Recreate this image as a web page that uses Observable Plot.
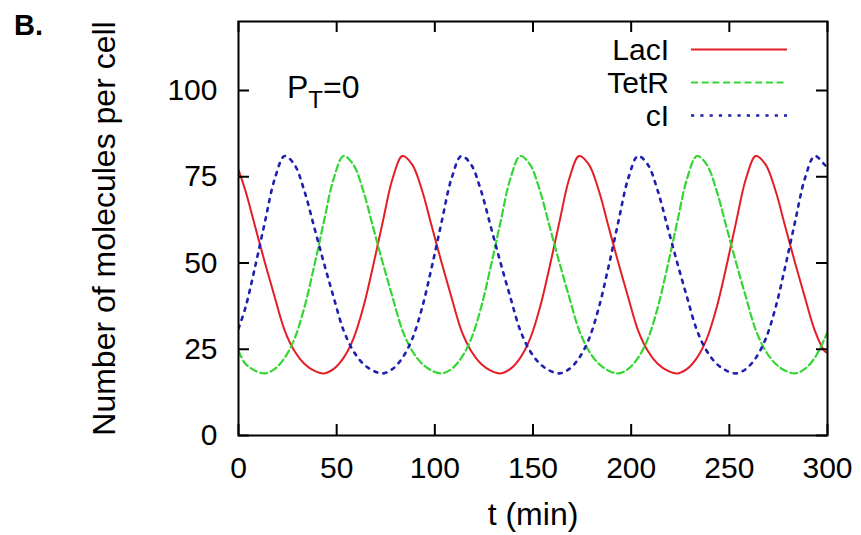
<!DOCTYPE html>
<html>
<head>
<meta charset="utf-8">
<script src="https://cdn.jsdelivr.net/npm/d3@7"></script>
<script src="https://cdn.jsdelivr.net/npm/@observablehq/plot@0.6"></script>
<style>
  html, body { margin: 0; padding: 0; background: #ffffff; }
  #chart svg { display: block; }
</style>
</head>
<body>
<div id="chart"></div>
<script>
// ---- data ----
const time = [0, 3.5, 8.5, 13.5, 18.5, 23.5, 28.5, 33.5, 38.5, 43.5, 48.5, 53.5, 58.5, 63.5, 68.5,
  73.5, 78.5, 83.5, 88.5, 93.5, 98.5, 103.5, 108.5, 113.5, 118.5, 123.5, 128.5, 133.5, 138.5,
  143.5, 148.5, 153.5, 158.5, 163.5, 168.5, 173.5, 178.5, 183.5, 188.5, 193.5, 198.5, 203.5,
  208.5, 213.5, 218.5, 223.5, 228.5, 233.5, 238.5, 243.5, 248.5, 253.5, 258.5, 263.5, 268.5,
  273.5, 278.5, 283.5, 288.5, 293.5, 298.5, 300];

const lacI = [77.0,
  71.0, 60.5, 50.0, 40.0, 30.5, 24.5, 20.8, 18.8,
  18.0, 19.3, 22.5, 28.0, 37.0, 49.0, 62.0, 74.5, 81.0, 78.5, 71.0, 60.5, 50.0, 40.0, 30.5, 24.5, 20.8, 18.8,
  18.0, 19.3, 22.5, 28.0, 37.0, 49.0, 62.0, 74.5, 81.0, 78.5, 71.0, 60.5, 50.0, 40.0, 30.5, 24.5, 20.8, 18.8,
  18.0, 19.3, 22.5, 28.0, 37.0, 49.0, 62.0, 74.5, 81.0, 78.5, 71.0, 60.5, 50.0, 40.0, 30.5, 24.5,
  24.0];

const tetR = [24.5,
  20.8, 18.8,
  18.0, 19.3, 22.5, 28.0, 37.0, 49.0, 62.0, 74.5, 81.0, 78.5, 71.0, 60.5, 50.0, 40.0, 30.5, 24.5, 20.8, 18.8,
  18.0, 19.3, 22.5, 28.0, 37.0, 49.0, 62.0, 74.5, 81.0, 78.5, 71.0, 60.5, 50.0, 40.0, 30.5, 24.5, 20.8, 18.8,
  18.0, 19.3, 22.5, 28.0, 37.0, 49.0, 62.0, 74.5, 81.0, 78.5, 71.0, 60.5, 50.0, 40.0, 30.5, 24.5, 20.8, 18.8,
  18.0, 19.3, 22.5, 28.0,
  30.0];

const cI = [31.0,
  37.0, 49.0, 62.0, 74.5, 81.0, 78.5, 71.0, 60.5, 50.0, 40.0, 30.5, 24.5, 20.8, 18.8,
  18.0, 19.3, 22.5, 28.0, 37.0, 49.0, 62.0, 74.5, 81.0, 78.5, 71.0, 60.5, 50.0, 40.0, 30.5, 24.5, 20.8, 18.8,
  18.0, 19.3, 22.5, 28.0, 37.0, 49.0, 62.0, 74.5, 81.0, 78.5, 71.0, 60.5, 50.0, 40.0, 30.5, 24.5, 20.8, 18.8,
  18.0, 19.3, 22.5, 28.0, 37.0, 49.0, 62.0, 74.5, 81.0, 78.5,
  77.5];

const seriesNames = ["LacI", "TetR", "cI"];
const xTicks = [0, 50, 100, 150, 200, 250, 300];
const yTicks = [0, 25, 50, 75, 100];
const xLabel = "t (min)";
const yLabel = "Number of molecules per cell";
const panelLabel = "B.";

// ---- styles ----
const FONT = "'Liberation Sans', Arial, Helvetica, sans-serif";
const colors = ["#e41e26", "#33d633", "#1f1fb0"];
const widths = [2, 2.2, 2.6];
const dashes = [null, "7,3.7", "3.2,6.1"];

const W = 861, H = 535;
const M = {top: 21, right: 34, bottom: 100, left: 238};
const FW = W - M.left - M.right, FH = H - M.top - M.bottom;
const TICK = 11;

const seriesValues = [lacI, tetR, cI];
const lines = seriesValues.map((vals, s) =>
  Plot.line(time.map((t, i) => ({t, v: vals[i]})), {
    x: "t", y: "v", stroke: colors[s], strokeWidth: widths[s],
    strokeDasharray: dashes[s], curve: "catmull-rom", clip: true
  })
);

function annotations() {
  const g = d3.create("svg:g").attr("font-family", FONT).attr("fill", "black")
    .attr("text-anchor", "start");
  // panel label
  g.append("text").attr("x", 14).attr("y", 35).attr("font-size", 29)
    .attr("font-weight", "bold").text(panelLabel);
  // P_T = 0
  const p = g.append("text").attr("x", 287).attr("y", 98).attr("font-size", 32);
  p.append("tspan").text("P");
  p.append("tspan").attr("font-size", 24).attr("dy", 10).text("T");
  p.append("tspan").attr("dy", -10).text("=0");
  // legend
  const baseY = [60, 93, 126];
  seriesNames.forEach((name, s) => {
    g.append("text").attr("x", 669).attr("y", baseY[s]).attr("font-size", 30)
      .attr("text-anchor", "end").text(name);
    g.append("line").attr("x1", 691).attr("x2", 787)
      .attr("y1", baseY[s] - 10.5).attr("y2", baseY[s] - 10.5)
      .attr("stroke", colors[s]).attr("stroke-width", widths[s])
      .attr("stroke-dasharray", dashes[s]);
  });
  return g.node();
}

const chart = Plot.plot({
  width: W, height: H,
  marginTop: M.top, marginRight: M.right, marginBottom: M.bottom, marginLeft: M.left,
  style: {fontFamily: FONT, fontSize: "30px", color: "black", background: "white"},
  x: {domain: [0, 300], ticks: xTicks, tickSize: 0, tickPadding: 21, label: null},
  y: {domain: [0, 120], ticks: yTicks, tickSize: 0, tickPadding: 21, label: null},
  marks: [
    ...lines,
    // inward ticks on all four sides
    Plot.tickX(xTicks, {x: d => d, insetTop: FH - TICK, stroke: "black", strokeWidth: 2}),
    Plot.tickX(xTicks, {x: d => d, insetBottom: FH - TICK, stroke: "black", strokeWidth: 2}),
    Plot.tickY(yTicks, {y: d => d, insetRight: FW - TICK, stroke: "black", strokeWidth: 2}),
    Plot.tickY(yTicks, {y: d => d, insetLeft: FW - TICK, stroke: "black", strokeWidth: 2}),
    Plot.frame({stroke: "black", strokeWidth: 2}),
    Plot.text([xLabel], {frameAnchor: "bottom", dy: 89, lineAnchor: "bottom", fontSize: 32}),
    Plot.text([yLabel], {frameAnchor: "left", dx: -124, rotate: -90, textAnchor: "middle",
      lineAnchor: "bottom", fontSize: 32}),
    annotations
  ]
});
document.getElementById("chart").appendChild(chart);
</script>
</body>
</html>
